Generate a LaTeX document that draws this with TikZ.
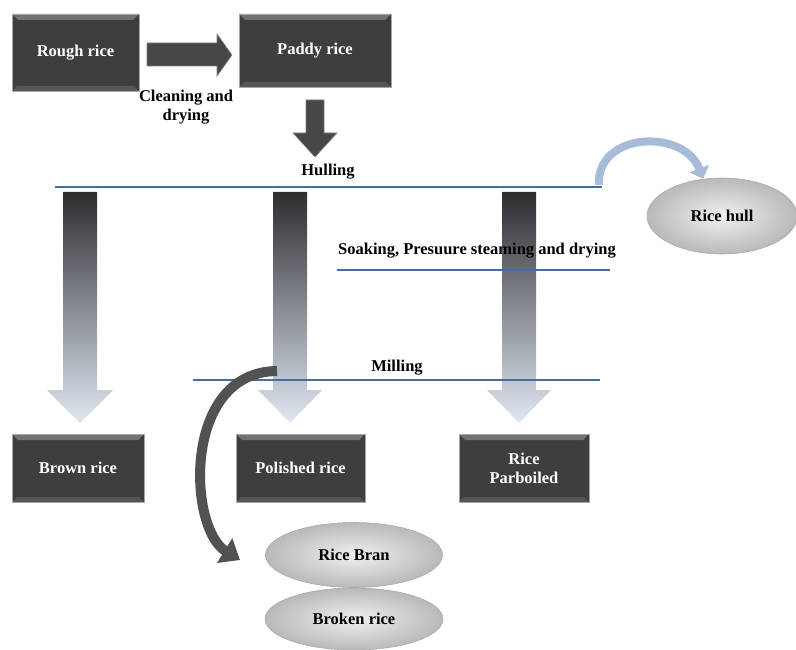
\documentclass[tikz,border=0pt]{standalone}
\usepackage{fontspec}
\setmainfont{Liberation Serif}
\usetikzlibrary{arrows.meta}
\definecolor{boxgray}{RGB}{62,62,62}
\definecolor{bevtop}{RGB}{115,115,115}
\definecolor{bevbot}{RGB}{85,85,85}
\definecolor{linblue}{RGB}{70,108,160}
\definecolor{shadedark}{RGB}{45,45,48}
\definecolor{shademid}{RGB}{192,209,233}
\definecolor{shadelight}{RGB}{224,232,243}
\definecolor{hullblue}{RGB}{168,188,218}
\tikzset{
  ricebox/.style={draw=black!35, line width=0.8pt, fill=boxgray, text=white,
    font=\bfseries\fontsize{16.5}{19}\selectfont, align=center,
    path picture={
      \fill[bevtop] (path picture bounding box.north west) -- (path picture bounding box.north east)
        -- ([xshift=-6pt,yshift=-6pt]path picture bounding box.north east)
        -- ([xshift=6pt,yshift=-6pt]path picture bounding box.north west) -- cycle;
      \fill[bevbot] (path picture bounding box.south west) -- (path picture bounding box.south east)
        -- ([xshift=-5pt,yshift=5pt]path picture bounding box.south east)
        -- ([xshift=5pt,yshift=5pt]path picture bounding box.south west) -- cycle;
    }},
  byprod/.style={ellipse, draw=gray!65, line width=0.6pt, inner color=gray!12, outer color=gray!55,
    font=\bfseries\fontsize{16.5}{19}\selectfont},
  steplabel/.style={font=\bfseries\fontsize{16.5}{19}\selectfont, align=center},
  stageline/.style={draw=linblue, line width=1.8pt},
  darkarrow/.style={fill=black!72, draw=black!50, line width=0.6pt},
  fadearrow/.style={top color=shadedark, middle color=shademid, bottom color=shadelight}
}
\usetikzlibrary{shapes.geometric}
\begin{document}
\begin{tikzpicture}[x=1pt, y=-1pt]
\useasboundingbox (0,0) rectangle (796,650);
% boxes
\node[ricebox, minimum width=127pt, minimum height=77pt] (rough) at (75.5,52.5) {Rough rice};
\node[ricebox, minimum width=152pt, minimum height=73pt] (paddy) at (315,50.5) {Paddy rice};
\node[ricebox, minimum width=132pt, minimum height=68pt] (brown) at (78,468) {Brown rice};
\node[ricebox, minimum width=129pt, minimum height=68pt] (polished) at (300.5,468) {Polished rice};
\node[ricebox, minimum width=130pt, minimum height=68pt] (parboiled) at (524,468) {Rice\\Parboiled};
% by-products
\node[byprod, minimum width=150pt, minimum height=76pt] (hull) at (722,216) {Rice hull};
\node[byprod, minimum width=178pt, minimum height=62pt] (broken) at (354,619) {Broken rice};
\node[byprod, minimum width=177pt, minimum height=65pt] (bran) at (354,555) {Rice Bran};
% block arrows
\path[darkarrow] (147,43) -- (217,43) -- (217,34) -- (232,55) -- (217,76) -- (217,66) -- (147,66) -- cycle;
\path[darkarrow] (306,100) -- (324,100) -- (324,133) -- (337,133) -- (315,157) -- (293,133) -- (306,133) -- cycle;
\shade[fadearrow] (63,192) -- (97,192) -- (97,390) -- (113,390) -- (80,423) -- (47,390) -- (63,390) -- cycle;
\shade[fadearrow] (273,192) -- (307,192) -- (307,390) -- (322,390) -- (290,423) -- (258,390) -- (273,390) -- cycle;
\shade[fadearrow] (502,192) -- (536,192) -- (536,390) -- (551,390) -- (519,423) -- (487,390) -- (502,390) -- cycle;
% stages
\coordinate (hullA) at (55,187);
\coordinate (hullB) at (602,187);
\coordinate (soakA) at (337,270);
\coordinate (soakB) at (610,270);
\coordinate (millA) at (193,380);
\coordinate (millB) at (600,380);
\path[stageline] (hullA) -- (hullB);
\path[stageline] (soakA) -- (soakB);
\path[stageline] (millA) -- (millB);
\node[steplabel] (clean) at (186,107) {Cleaning and\\drying};
\node[steplabel] (hulling) at (328,172) {Hulling};
\node[steplabel] (soaking) at (477,251) {Soaking, Presuure steaming and drying};
\node[steplabel] (milling) at (397,368) {Milling};
% curved arrows
\coordinate (millout) at (277,371);
\coordinate (brantip) at (240,560);
\draw[black!68, line width=10pt, -{Triangle[width=28pt,length=18pt]}]
  (millout) .. controls (182,372) and (188,528) .. (brantip);
\draw[hullblue, line width=8pt, -{Triangle[width=20pt,length=11pt]}]
  ([xshift=-3pt,yshift=2pt]hullB) .. controls (596,132) and (684,128) .. (hull.117);
\end{tikzpicture}
\end{document}
